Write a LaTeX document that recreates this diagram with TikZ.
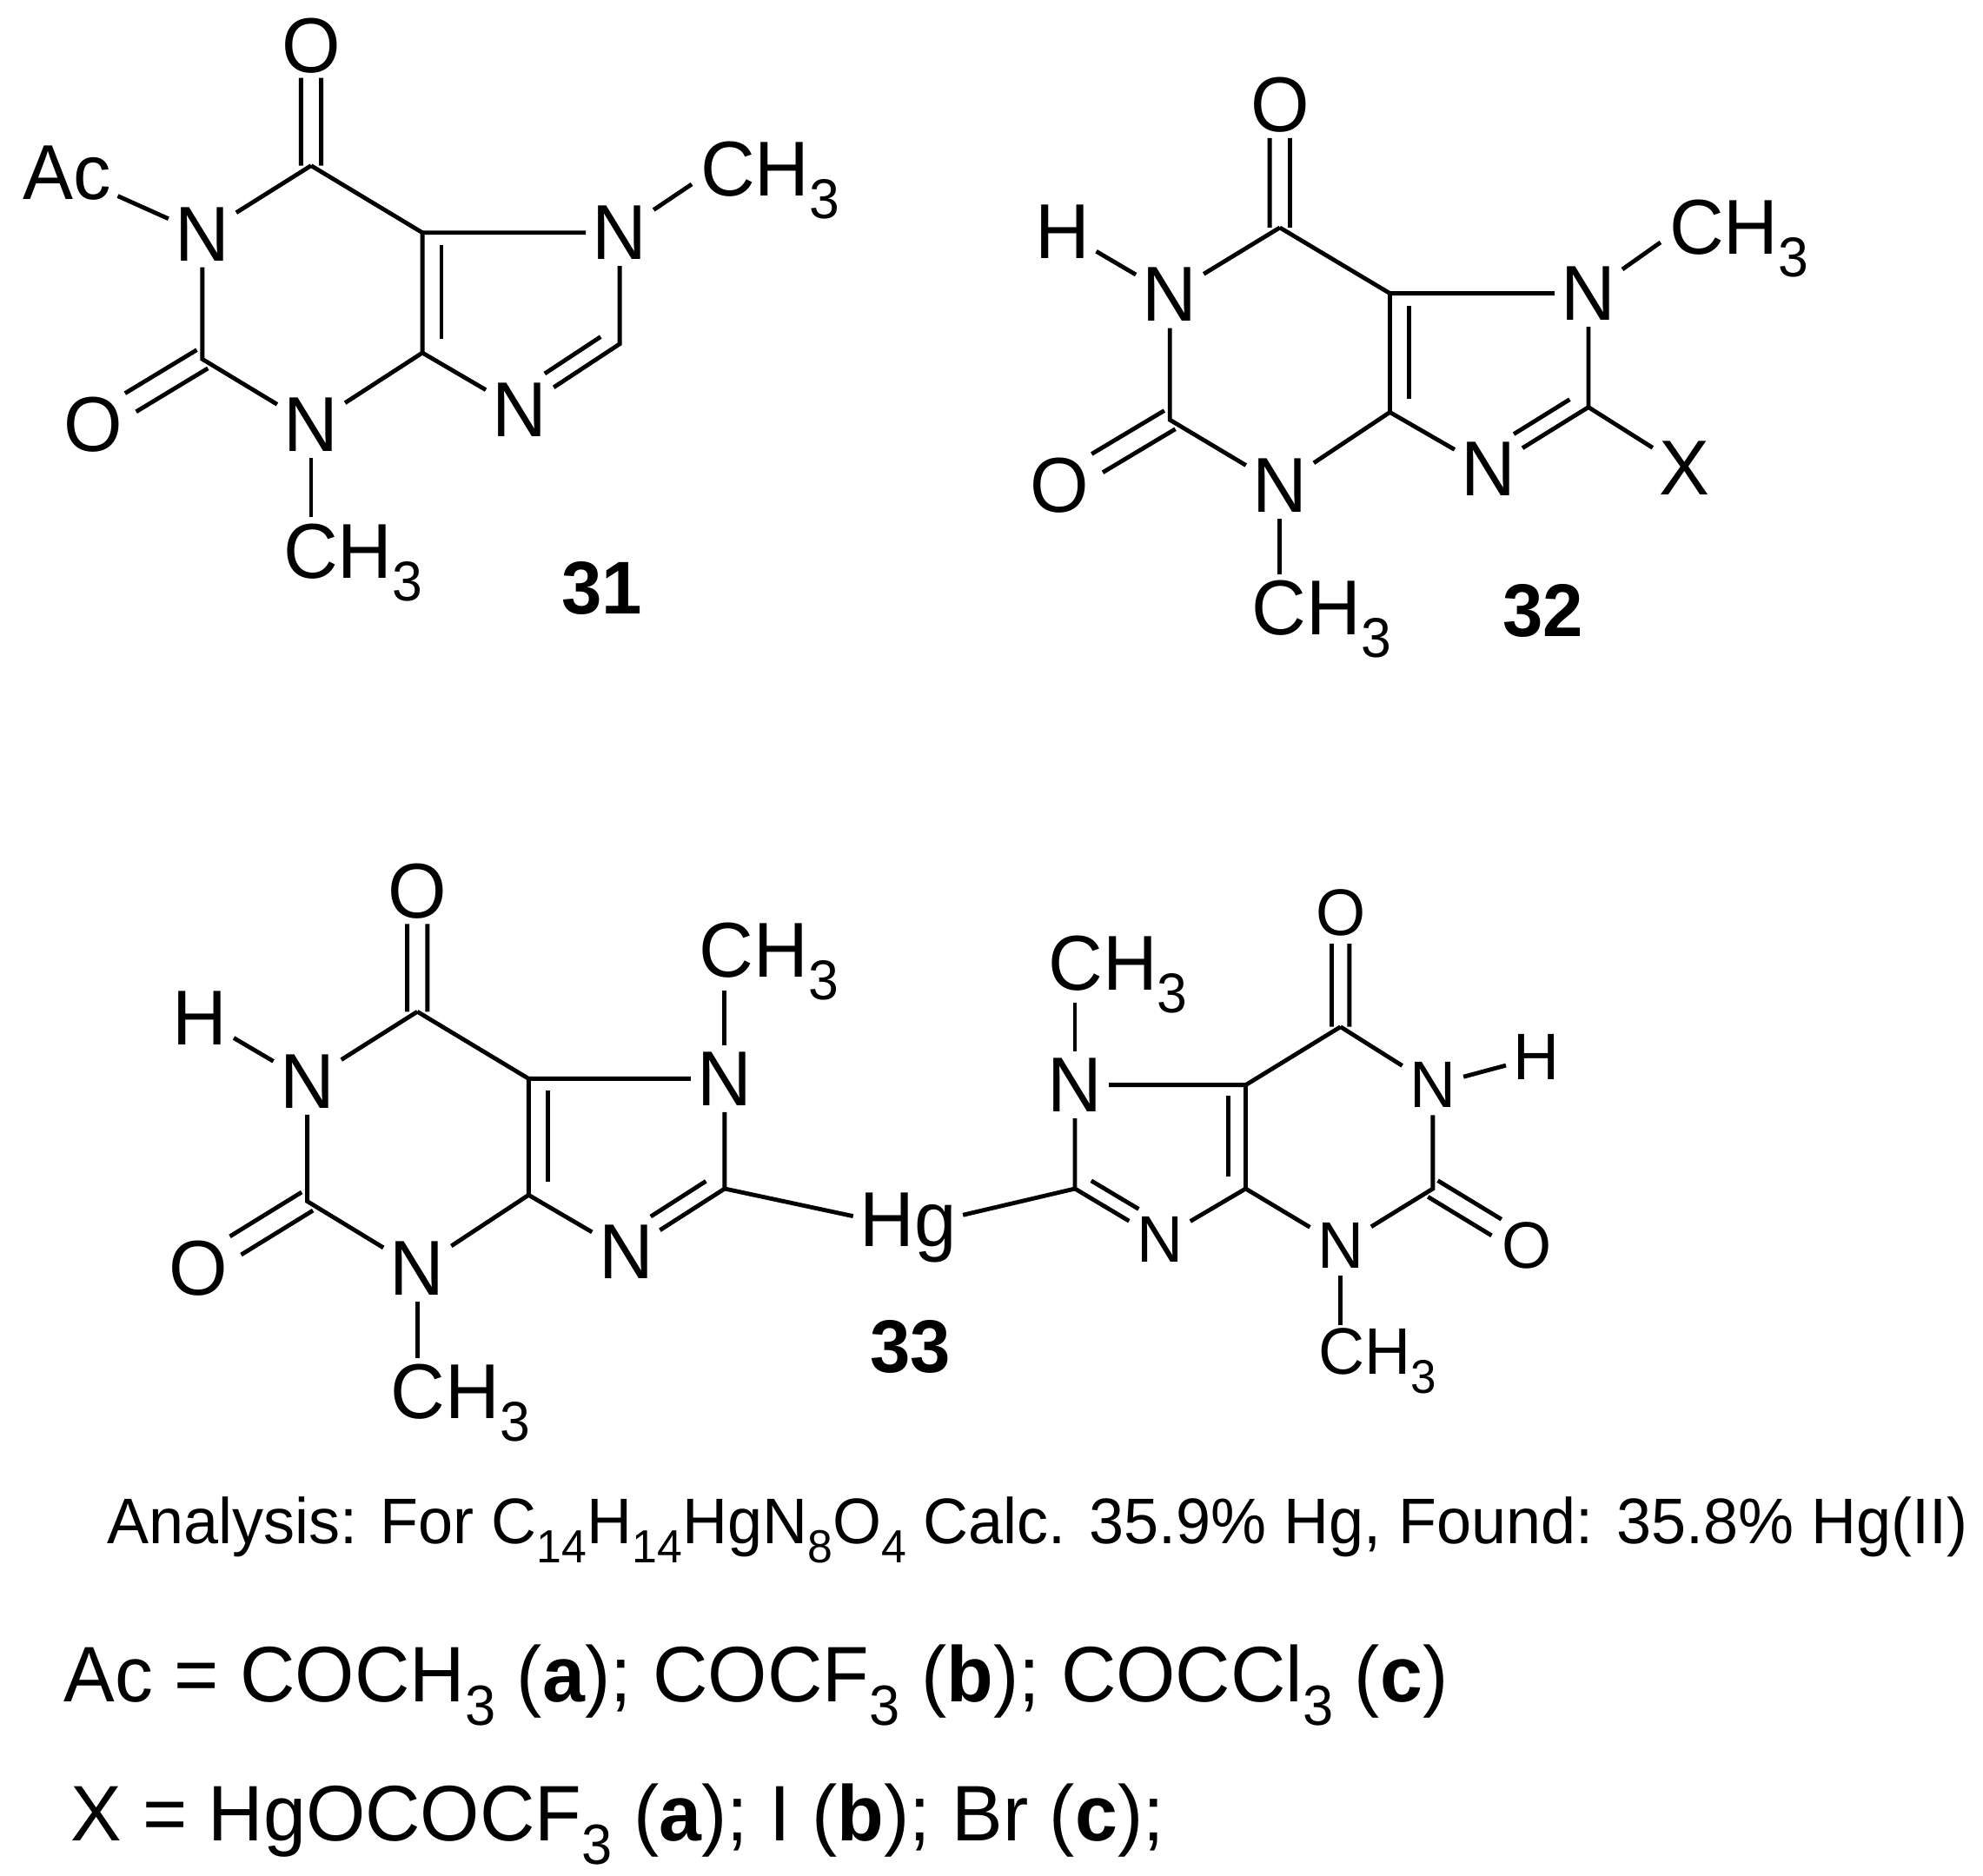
\documentclass[tikz,border=0pt]{standalone}
\usepackage{fontspec}
\setmainfont[FakeStretch=0.97]{Liberation Sans}
\usetikzlibrary{calc}
\newcommand{\lowsub}[1]{\raisebox{-0.55ex}{\scalebox{0.72}{#1}}}
\newcommand{\CHthree}{CH\lowsub{3}}
% inner line of a ring double bond: #3,#4 = fractions cut off, #5 = signed offset
\newcommand{\innerbond}[5]{\draw[bond] ($(#1)!#3!(#2)!#5!90:(#2)$) -- ($(#2)!#4!(#1)!#5!-90:(#1)$);}
% C=O double bond: #1 = carbon, #2 = oxygen node, #3 = fraction cut off at O, #4 = half gap
\newcommand{\carbonyl}[4]{%
  \draw[bond] ($(#1)!#4!90:(#2)$) -- ($(#2)!#3!(#1)!#4!-90:(#1)$);
  \draw[bond] ($(#1)!#4!-90:(#2)$) -- ($(#2)!#3!(#1)!#4!90:(#1)$);}
\tikzset{
  x=0.01cm,y=-0.01cm,
  atom/.style={font=\fontsize{17.5pt}{20pt}\selectfont,inner sep=1.5pt,outer sep=0pt},
  me/.style={atom,inner sep=0pt,anchor=base west},
  bond/.style={line width=0.95pt,black},
  cmpd/.style={font=\fontsize{16.8pt}{20pt}\selectfont\bfseries,inner sep=0pt},
  caption/.style={font=\fontsize{17.7pt}{20pt}\selectfont,inner sep=0pt,anchor=base west},
  small/.style={font=\fontsize{14.8pt}{18pt}\selectfont,inner sep=1.5pt},
  smallme/.style={small,inner sep=0pt,anchor=base west},
}
\begin{document}
\begin{tikzpicture}
\useasboundingbox (0,0) rectangle (1568,1483);
% ---------- 31
\node[atom] (aO6) at (246,36) {O};
\coordinate (aC6) at (246,131);
\node[atom] (aN1) at (160,185) {N};
\node[atom] (aAc) at (53,137) {Ac};
\coordinate (aC2) at (160,284);
\node[atom] (aO2) at (74,336) {O};
\node[atom] (aN3) at (246,336) {N};
\node[me] (aMe3) at (224,457) {\CHthree};
\coordinate (aC4) at (334,279);
\coordinate (aC5) at (334,184);
\node[atom] (aN7) at (490,184) {N};
\node[me] (aMe7) at (554,155) {\CHthree};
\coordinate (aC8) at (490,272);
\node[atom] (aN9) at (411,324) {N};
\node[cmpd] (aL) at (476,465) {31};
\carbonyl{aC6}{aO6}{.27}{.08cm}
\carbonyl{aC2}{aO2}{.34}{.085cm}
\draw[bond] (aC6) -- (aN1) -- (aC2) -- (aN3) -- (aC4) -- (aC5) -- (aC6);
\draw[bond] (aAc) -- (aN1);
\draw[bond] (aC5) -- (aN7) -- (aC8) -- (aN9) -- (aC4);
\draw[bond] (aN7) -- ($(aMe7.west)+(-7,3)$);
\draw[bond] (aN3) -- ($(aMe3.base west)+(22,-48)$);
\innerbond{aC4}{aC5}{.115}{.105}{-.15cm}
\innerbond{aC8}{aN9}{.1}{.34}{-.13cm}
% ---------- 32
\node[atom] (bO6) at (1012,83) {O};
\coordinate (bC6) at (1012,180);
\node[atom] (bN1) at (925,233) {N};
\node[atom] (bH) at (840,183) {H};
\coordinate (bC2) at (925,332);
\node[atom] (bO2) at (838,384) {O};
\node[atom] (bN3) at (1012,384) {N};
\node[me] (bMe3) at (990,502) {\CHthree};
\coordinate (bC4) at (1099,326);
\coordinate (bC5) at (1099,232);
\node[atom] (bN7) at (1256,232) {N};
\node[me] (bMe7) at (1320,201) {\CHthree};
\coordinate (bC8) at (1256,322);
\node[atom] (bN9) at (1177,371) {N};
\node[atom] (bX) at (1332,370) {X};
\node[cmpd] (bL) at (1220,483) {32};
\carbonyl{bC6}{bO6}{.27}{.08cm}
\carbonyl{bC2}{bO2}{.34}{.085cm}
\draw[bond] (bC6) -- (bN1) -- (bC2) -- (bN3) -- (bC4) -- (bC5) -- (bC6);
\draw[bond] (bH) -- (bN1);
\draw[bond] (bC5) -- (bN7) -- (bC8) -- (bN9) -- (bC4);
\draw[bond] (bC8) -- (bX);
\draw[bond] (bN7) -- ($(bMe7.west)+(-7,3)$);
\draw[bond] (bN3) -- ($(bMe3.base west)+(22,-48)$);
\innerbond{bC4}{bC5}{.115}{.105}{-.15cm}
\innerbond{bC8}{bN9}{.1}{.34}{-.13cm}
% ---------- 33 left
\node[atom] (cO6) at (330,705) {O};
\coordinate (cC6) at (330,800);
\node[atom] (cN1) at (243,855) {N};
\node[atom] (cH) at (158,805) {H};
\coordinate (cC2) at (243,950);
\node[atom] (cO2) at (157,1003) {O};
\node[atom] (cN3) at (330,1003) {N};
\node[me] (cMe3) at (309,1122) {\CHthree};
\coordinate (cC4) at (418,945);
\coordinate (cC5) at (418,853);
\node[atom] (cN7) at (573,853) {N};
\node[me] (cMe7) at (553,773) {\CHthree};
\coordinate (cC8) at (573,940);
\node[atom] (cN9) at (495,990) {N};
\node[atom] (Hg) at (718,971) {Hg};
\node[cmpd] (cL) at (720,1065) {33};
\carbonyl{cC6}{cO6}{.27}{.08cm}
\carbonyl{cC2}{cO2}{.34}{.085cm}
\draw[bond] (cC6) -- (cN1) -- (cC2) -- (cN3) -- (cC4) -- (cC5) -- (cC6);
\draw[bond] (cH) -- (cN1);
\draw[bond] (cC5) -- (cN7) -- (cC8) -- (cN9) -- (cC4);
\draw[bond] (cC8) -- (Hg);
\draw[bond] (cN7) -- ($(cMe7.base west)+(20,10)$);
\draw[bond] (cN3) -- ($(cMe3.base west)+(21,-48)$);
\innerbond{cC4}{cC5}{.115}{.105}{-.15cm}
\innerbond{cC8}{cN9}{.1}{.34}{-.13cm}
% ---------- 33 right
\node[small] (dO6) at (1060,722) {O};
\coordinate (dC6) at (1060,812);
\node[small] (dN1) at (1133,858) {N};
\node[small] (dH) at (1215,836) {H};
\coordinate (dC2) at (1133,940);
\node[small] (dO2) at (1207,985) {O};
\node[small] (dN3) at (1060,985) {N};
\node[smallme] (dMe3) at (1042,1087) {\CHthree};
\coordinate (dC4) at (985,940);
\coordinate (dC5) at (985,858);
\node[atom] (dN7) at (850,858) {N};
\node[me] (dMe7) at (829,783) {\CHthree};
\coordinate (dC8) at (850,940);
\node[small] (dN9) at (917,980) {N};
\carbonyl{dC6}{dO6}{.27}{.07cm}
\carbonyl{dC2}{dO2}{.32}{.075cm}
\draw[bond] (dC6) -- (dN1) -- (dC2) -- (dN3) -- (dC4) -- (dC5) -- (dC6);
\draw[bond] (dH) -- (dN1);
\draw[bond] (dC5) -- (dN7) -- (dC8) -- (dN9) -- (dC4);
\draw[bond] (dC8) -- (Hg);
\draw[bond] (dN7) -- ($(dMe7.base west)+(21,10)$);
\draw[bond] (dN3) -- ($(dMe3.base west)+(18,-39)$);
\innerbond{dC4}{dC5}{.115}{.105}{.14cm}
\innerbond{dC8}{dN9}{.1}{.34}{.12cm}
% ---------- captions
\node[caption,font=\fontsize{14.5pt}{18pt}\selectfont] (cap1) at (84,1221) {Analysis: For C\lowsub{14}H\lowsub{14}HgN\lowsub{8}O\lowsub{4} Calc. 35.9\% Hg, Found: 35.8\% Hg(II)};
\node[caption] (cap2) at (50,1346) {Ac = COCH\lowsub{3} (\textbf{a}); COCF\lowsub{3} (\textbf{b}); COCCl\lowsub{3} (\textbf{c})};
\node[caption] (cap3) at (55,1456) {X = HgOCOCF\lowsub{3} (\textbf{a}); I (\textbf{b}); Br (\textbf{c});};
\end{tikzpicture}
\end{document}
